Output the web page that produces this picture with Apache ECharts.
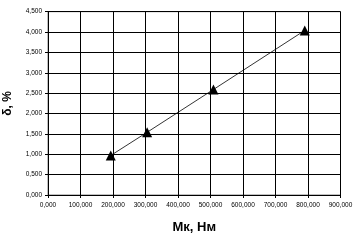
<!DOCTYPE html>
<html><head><meta charset="utf-8">
<script src="https://cdn.jsdelivr.net/npm/echarts@6/dist/echarts.min.js"></script>
<style>html,body{margin:0;padding:0;background:#fff}#c{width:357px;height:241px}</style>
</head><body><div id="c"></div>
<script>
const xValues = [193, 305, 509, 790];
const yValues = [0.97, 1.54, 2.59, 4.04];
const xTitle = 'Мк, Нм';
const yTitle = 'δ, %';
const fmt = v => v.toFixed(3).replace('.', ',');
const chart = echarts.init(document.getElementById('c'), null, {renderer: 'canvas'});
chart.setOption({
  animation: false,
  backgroundColor: '#fff',
  grid: {left: 48, right: 16.5, top: 11.7, bottom: 46, show: true, borderColor: '#808080', borderWidth: 1, containLabel: false, outerBoundsMode: 'none'},
  xAxis: {
    type: 'value', min: 0, max: 900, interval: 100,
    name: xTitle, nameLocation: 'middle', nameGap: 26,
    nameTextStyle: {fontFamily: 'Liberation Sans', fontWeight: 'bold', fontSize: 13, color: '#000'},
    axisLine: {show: true, lineStyle: {color: '#000', width: 1}},
    axisTick: {show: true, length: 3, lineStyle: {color: '#000'}},
    axisLabel: {formatter: fmt, fontFamily: 'Liberation Sans', fontSize: 6.5, color: '#000', margin: 7},
    splitLine: {show: true, lineStyle: {color: '#000', width: 1}}
  },
  yAxis: {
    type: 'value', min: 0, max: 4.5, interval: 0.5,
    name: yTitle, nameLocation: 'middle', nameGap: 34, nameRotate: 90,
    nameTextStyle: {fontFamily: 'Liberation Sans', fontWeight: 'bold', fontSize: 12, color: '#000'},
    axisLine: {show: true, lineStyle: {color: '#000', width: 1}},
    axisTick: {show: true, length: 3, lineStyle: {color: '#000'}},
    axisLabel: {formatter: fmt, fontFamily: 'Liberation Sans', fontSize: 6.5, color: '#000', margin: 6},
    splitLine: {show: true, lineStyle: {color: '#000', width: 1}}
  },
  series: [{
    type: 'line',
    data: xValues.map((x, i) => [x, yValues[i]]),
    symbol: 'triangle', symbolSize: 10,
    itemStyle: {color: '#000'},
    lineStyle: {color: '#000', width: 0.8}
  }]
});
</script></body></html>
